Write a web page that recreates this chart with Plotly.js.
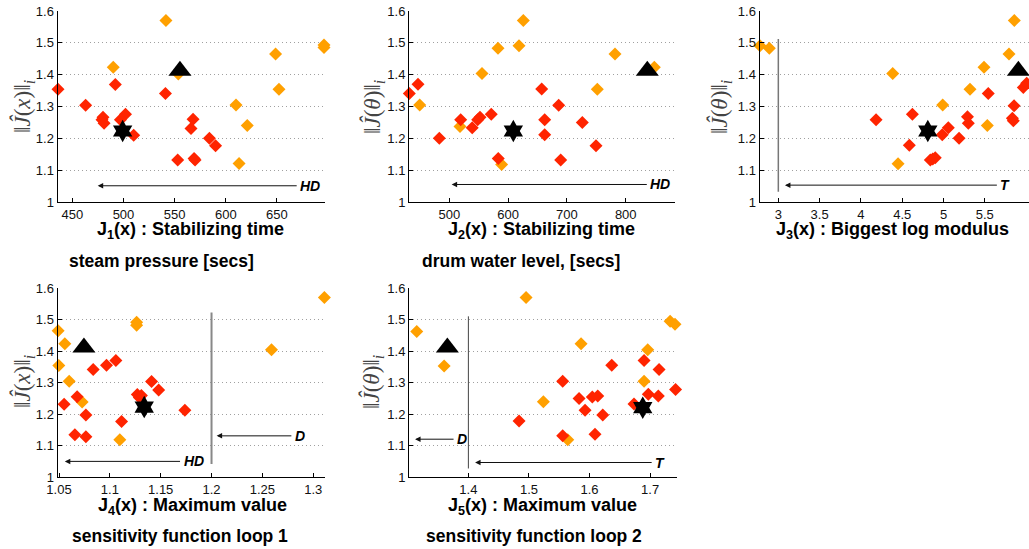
<!DOCTYPE html>
<html>
<head>
<meta charset="utf-8">
<script src="https://cdn.plot.ly/plotly-3.0.1.min.js"></script>
<style>html,body{margin:0;padding:0;background:#fff;}#chart{width:1029px;height:549px;}</style>
</head>
<body>
<div id="chart"></div>
<script>
// ---------- data ----------
const yTickVals = [1, 1.1, 1.2, 1.3, 1.4, 1.5, 1.6];
const yTickText = ["1", "1.1", "1.2", "1.3", "1.4", "1.5", "1.6"];

// J1: stabilizing time steam pressure
const j1OrangeX = [541.5, 696, 696, 648.7, 490, 553.6, 652, 610, 621, 613];
const j1OrangeY = [1.57, 1.493, 1.485, 1.465, 1.423, 1.402, 1.354, 1.305, 1.24, 1.121];
const j1RedX = [436, 463, 492, 541, 480, 479, 481, 502, 497, 510, 568, 566, 584, 590, 553, 569, 570];
const j1RedY = [1.354, 1.304, 1.369, 1.341, 1.266, 1.258, 1.247, 1.276, 1.258, 1.21, 1.26, 1.231, 1.2, 1.177, 1.132, 1.137, 1.132];
const j1Star = [499.2, 1.223];
const j1Tri = [555.2, 1.412];
const j1Ticks = [450, 500, 550, 600, 650];

// J2: stabilizing time drum water level
const j2OrangeX = [625.9, 618.5, 582.8, 781.8, 848.6, 555.6, 751.7, 449.7, 518.2, 589];
const j2OrangeY = [1.57, 1.491, 1.483, 1.465, 1.423, 1.404, 1.354, 1.305, 1.237, 1.118];
const j2RedX = [432, 446.8, 483, 519.4, 539, 548.3, 552.2, 571.4, 583.3, 657.1, 662.2, 662.2, 686, 689.4, 726.2, 749.5];
const j2RedY = [1.341, 1.37, 1.2, 1.258, 1.233, 1.258, 1.266, 1.276, 1.137, 1.355, 1.258, 1.211, 1.304, 1.132, 1.25, 1.177];
const j2Star = [608.9, 1.223];
const j2Tri = [836.7, 1.412];
const j2Ticks = [500, 600, 700, 800];

// J3: biggest log modulus
const j3OrangeX = [2.778, 2.891, 4.385, 4.45, 4.99, 5.321, 5.49, 5.53, 5.793, 5.857];
const j3OrangeY = [1.491, 1.483, 1.404, 1.12, 1.305, 1.354, 1.423, 1.24, 1.465, 1.57];
const j3RedX = [4.183, 4.623, 4.586, 4.84, 4.87, 4.9, 4.985, 5.058, 5.188, 5.29, 5.3, 5.542, 5.854, 5.834, 5.845, 5.966, 6.007];
const j3RedY = [1.258, 1.276, 1.178, 1.132, 1.135, 1.139, 1.211, 1.233, 1.2, 1.268, 1.247, 1.341, 1.302, 1.263, 1.255, 1.36, 1.373];
const j3Star = [4.81, 1.223];
const j3Tri = [5.906, 1.412];
const j3Ticks = [3, 3.5, 4, 4.5, 5, 5.5];

// J4: maximum value sensitivity function loop 1
const j4OrangeX = [1.0491, 1.0557, 1.0498, 1.06, 1.0727, 1.1098, 1.1263, 1.1263, 1.259, 1.311];
const j4OrangeY = [1.465, 1.424, 1.355, 1.305, 1.239, 1.119, 1.492, 1.483, 1.405, 1.571];
const j4RedX = [1.055, 1.0678, 1.0656, 1.0764, 1.0764, 1.0836, 1.0967, 1.1059, 1.1115, 1.127, 1.129, 1.131, 1.141, 1.148, 1.1738];
const j4RedY = [1.232, 1.256, 1.135, 1.198, 1.129, 1.342, 1.356, 1.371, 1.177, 1.263, 1.253, 1.26, 1.304, 1.277, 1.213];
const j4Star = [1.1338, 1.223];
const j4Tri = [1.0745, 1.412];
const j4Ticks = [1.05, 1.1, 1.15, 1.2, 1.25, 1.3];

// J5: maximum value sensitivity function loop 2
const j5OrangeX = [1.3148, 1.36, 1.4952, 1.5238, 1.564, 1.586, 1.69, 1.696, 1.733, 1.741];
const j5OrangeY = [1.463, 1.353, 1.571, 1.24, 1.119, 1.424, 1.305, 1.405, 1.495, 1.486];
const j5RedX = [1.4837, 1.5557, 1.5557, 1.5827, 1.5926, 1.6046, 1.6135, 1.609, 1.6218, 1.6366, 1.6734, 1.69, 1.697, 1.7135, 1.7147, 1.742];
const j5RedY = [1.179, 1.305, 1.132, 1.25, 1.213, 1.255, 1.258, 1.137, 1.198, 1.356, 1.233, 1.371, 1.264, 1.258, 1.342, 1.279];
const j5Star = [1.6878, 1.221];
const j5Tri = [1.3653, 1.412];
const j5Ticks = [1.4, 1.5, 1.6, 1.7];

// ---------- figure ----------
const W = 1029, H = 549;
const px = v => v / W;
const py = v => 1 - v / H;
const RED = "#ff2400", ORANGE = "#ffa000";

const panels = [
  {ox: j1OrangeX, oy: j1OrangeY, rx: j1RedX, ry: j1RedY, star: j1Star, tri: j1Tri, ticks: j1Ticks, tickText: j1Ticks.map(String), range: [435.5, 697], dom: [57.5, 325], row: 0},
  {ox: j2OrangeX, oy: j2OrangeY, rx: j2RedX, ry: j2RedY, star: j2Star, tri: j2Tri, ticks: j2Ticks, tickText: j2Ticks.map(String), range: [431.5, 883.8], dom: [409, 675], row: 0},
  {ox: j3OrangeX, oy: j3OrangeY, rx: j3RedX, ry: j3RedY, star: j3Star, tri: j3Tri, ticks: j3Ticks, tickText: j3Ticks.map(String), range: [2.772, 6.035], dom: [759.5, 1029], row: 0},
  {ox: j4OrangeX, oy: j4OrangeY, rx: j4RedX, ry: j4RedY, star: j4Star, tri: j4Tri, ticks: j4Ticks, tickText: j4Ticks.map(String), range: [1.0485, 1.3116], dom: [57.5, 325], row: 1},
  {ox: j5OrangeX, oy: j5OrangeY, rx: j5RedX, ry: j5RedY, star: j5Star, tri: j5Tri, ticks: j5Ticks, tickText: j5Ticks.map(String), range: [1.302, 1.7435], dom: [409, 676.5], row: 1}
];
const rowPx = [[11, 202], [288.3, 477.3]];

const traces = [];
const layout = {
  width: W, height: H,
  margin: {l: 0, r: 0, t: 0, b: 0},
  paper_bgcolor: "#fff", plot_bgcolor: "rgba(0,0,0,0)",
  showlegend: false,
  font: {family: "Liberation Sans, Arial, sans-serif", size: 13, color: "#111"},
  annotations: [], shapes: []
};

panels.forEach((p, i) => {
  const n = i === 0 ? "" : String(i + 1);
  const xa = "x" + n, ya = "y" + n;
  const common = {xaxis: xa, yaxis: ya, mode: "markers", type: "scatter", cliponaxis: false, hoverinfo: "skip"};
  traces.push(Object.assign({}, common, {x: p.ox, y: p.oy, marker: {symbol: "diamond", size: 10, color: ORANGE, line: {width: 0}}}));
  traces.push(Object.assign({}, common, {x: p.rx, y: p.ry, marker: {symbol: "diamond", size: 10, color: RED, line: {width: 0}}}));
  traces.push(Object.assign({}, common, {x: [p.star[0]], y: [p.star[1]], marker: {symbol: "hexagram", size: 17, color: "#000", line: {width: 0}}}));
  traces.push(Object.assign({}, common, {x: [p.tri[0]], y: [p.tri[1]], marker: {symbol: "triangle-up", size: 20, color: "#000", line: {width: 0}}}));
  const r = rowPx[p.row];
  layout["xaxis" + n] = {
    domain: [px(p.dom[0]), px(p.dom[1])], range: p.range, anchor: ya,
    tickvals: p.ticks, ticktext: p.tickText, ticks: "inside", ticklen: 4, tickcolor: "#000",
    showline: true, linecolor: "#000", linewidth: 1, showgrid: false, zeroline: false,
    tickfont: {size: 13, color: "#111"}, fixedrange: true
  };
  layout["yaxis" + n] = {
    domain: [py(r[1]), py(r[0])], range: [1, 1.6], anchor: xa,
    tickvals: yTickVals, ticktext: yTickText, ticks: "inside", ticklen: 4, tickcolor: "#000",
    showline: true, linecolor: "#000", linewidth: 1, showgrid: true, gridcolor: "#a0a0a0",
    griddash: "1px,3px", gridwidth: 1, zeroline: false, tickfont: {size: 13, color: "#111"}, fixedrange: true
  };
});

// y axis titles
const ylab = (t, xc, yc) => ({
  xref: "paper", yref: "paper", x: px(xc), y: py(yc), xanchor: "center", yanchor: "middle",
  text: "‖<i>Ĵ</i>(<i>" + t + "</i>)‖<sub><i>i</i></sub>", textangle: -90, showarrow: false,
  font: {family: "Liberation Serif, DejaVu Serif, serif", size: 23, color: "#444"}
});
layout.annotations.push(ylab("x", 23, 107));
layout.annotations.push(ylab("θ", 373, 107));
layout.annotations.push(ylab("θ", 720, 107));
layout.annotations.push(ylab("x", 23, 382));
layout.annotations.push(ylab("θ", 372, 382));

// x axis titles
const TF = "Liberation Sans, Arial, Helvetica, sans-serif";
const xlab = (text, xc, yc, size) => ({
  xref: "paper", yref: "paper", x: px(xc), y: py(yc), xanchor: "center", yanchor: "middle",
  text: "<b>" + text + "</b>", showarrow: false, font: {family: TF, size: size, color: "#000"}
});
layout.annotations.push(xlab("J<sub>1</sub>(x) : Stabilizing time", 190, 230, 18));
layout.annotations.push(xlab("steam pressure [secs]", 161, 261, 17.5));
layout.annotations.push(xlab("J<sub>2</sub>(x) : Stabilizing time", 541, 230, 18));
layout.annotations.push(xlab("drum water level, [secs]", 521, 261, 17.5));
layout.annotations.push(xlab("J<sub>3</sub>(x) : Biggest log modulus", 892, 230, 18));
layout.annotations.push(xlab("J<sub>4</sub>(x) : Maximum value", 192, 506, 18));
layout.annotations.push(xlab("sensitivity function loop 1", 180, 536, 17.5));
layout.annotations.push(xlab("J<sub>5</sub>(x) : Maximum value", 542, 506, 18));
layout.annotations.push(xlab("sensitivity function loop 2", 534, 536, 17.5));

// arrows and labels (in data coordinates)
const arrow = (n, x0, x1, y, label) => {
  layout.annotations.push({
    xref: "x" + n, yref: "y" + n, axref: "x" + n, ayref: "y" + n,
    x: x1, y: y, ax: x0, ay: y, text: "", showarrow: true,
    arrowhead: 2, arrowsize: 1.1, arrowwidth: 1, arrowcolor: "#111", standoff: 0, startstandoff: 0
  });
  layout.annotations.push({
    xref: "x" + n, yref: "y" + n, x: x0, y: y, xanchor: "left", yanchor: "middle", xshift: 0,
    text: "<b><i>" + label + "</i></b>", showarrow: false,
    font: {family: "Liberation Sans, Arial, sans-serif", size: 14, color: "#000"}
  });
};
arrow("", 670.8, 474.8, 1.051, "HD");
arrow("2", 838.4, 504, 1.055, "HD");
arrow("3", 5.664, 3.08, 1.053, "T");
arrow("4", 1.28, 1.205, 1.1316, "D");
arrow("4", 1.1705, 1.0557, 1.0505, "HD");
arrow("5", 1.378, 1.312, 1.121, "D");
arrow("5", 1.705, 1.411, 1.047, "T");

// threshold lines
layout.shapes.push({type: "line", xref: "x3", yref: "y3", x0: 3.0, x1: 3.0, y0: 1.032, y1: 1.512, line: {color: "#777", width: 1.5}});
layout.shapes.push({type: "line", xref: "x4", yref: "y4", x0: 1.2, x1: 1.2, y0: 1.042, y1: 1.523, line: {color: "#888", width: 2}});
layout.shapes.push({type: "line", xref: "x5", yref: "y5", x0: 1.4, x1: 1.4, y0: 1.028, y1: 1.511, line: {color: "#444", width: 1}});

Plotly.newPlot("chart", traces, layout, {staticPlot: true, displayModeBar: false});
</script>
</body>
</html>
